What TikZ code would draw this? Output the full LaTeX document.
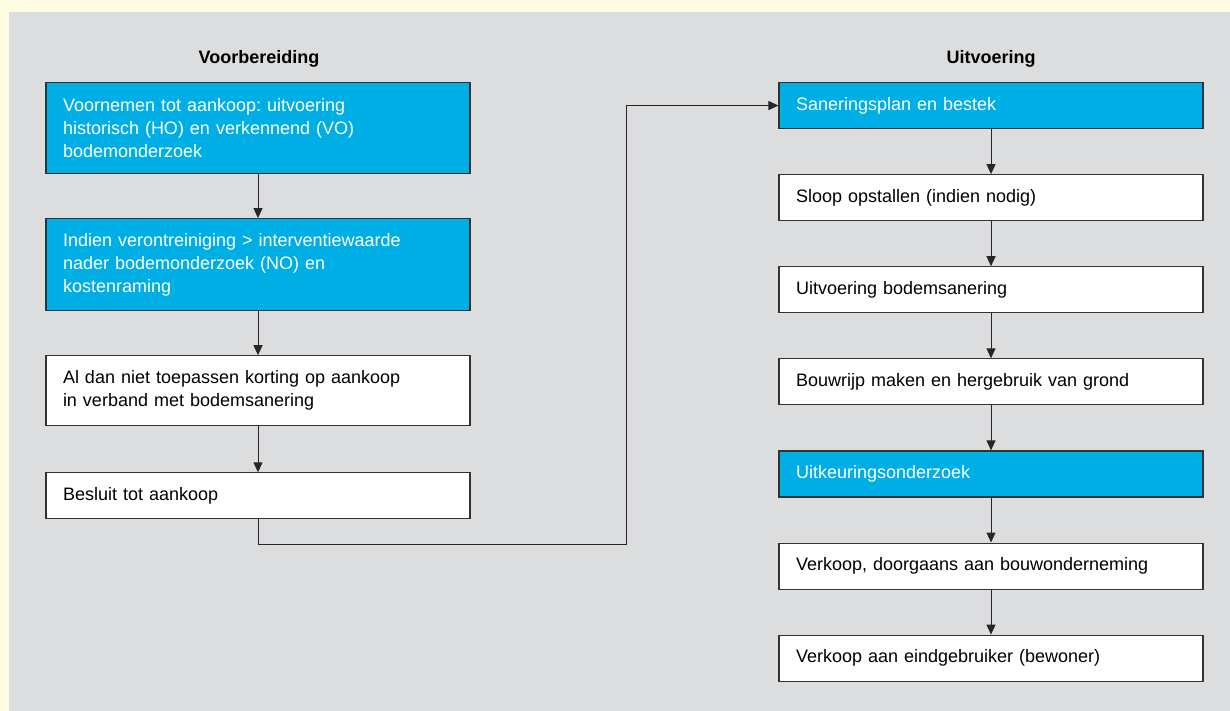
\documentclass[tikz,border=0pt]{standalone}
\usepackage{fontspec}
\setmainfont{Liberation Sans}
\usetikzlibrary{positioning,arrows.meta}
\frenchspacing

\definecolor{paleyellow}{RGB}{255,253,225}
\definecolor{panelgray}{RGB}{220,221,223}
\definecolor{stepblue}{RGB}{0,174,230}

\tikzset{
  box/.style={draw=black!80, line width=1.1pt, fill=white, minimum width=424pt,
    text width=390pt, inner xsep=17pt, inner ysep=0pt, align=left,
    font=\fontsize{18}{23}\selectfont},
  bluebox/.style={box, fill=stepblue, text=white},
  heading/.style={font=\fontsize{18}{22}\selectfont\bfseries},
  link/.style={-{Triangle[length=10pt,width=9pt]}, line width=1pt, draw=black!85},
}

\begin{document}
\begin{tikzpicture}[x=1pt,y=-1pt]
    % Background
    \fill[paleyellow] (0,0) rectangle (1230,711);
    \fill[panelgray] (9,12) rectangle (1230,711);

    % Headings
    \node[heading] (prep) at (259,59) {Voorbereiding};
    \node[heading] (exec) at (991,59) {Uitvoering};

    % Left column
    \node[bluebox, anchor=north, minimum height=91pt] (v1) at (258,82)
      {Voornemen tot aankoop: uitvoering\\historisch (HO) en verkennend (VO)\\bodemonderzoek};
    \node[bluebox, below=44pt of v1, minimum height=92pt] (v2)
      {Indien verontreiniging > interventiewaarde\\nader bodemonderzoek (NO) en\\kostenraming};
    \node[box, below=44pt of v2, minimum height=70pt] (v3)
      {Al dan niet toepassen korting op aankoop\\in verband met bodemsanering};
    \node[box, below=46pt of v3, minimum height=46pt] (v4) {Besluit tot aankoop};

    % Right column
    \node[bluebox, anchor=north, minimum height=46pt] (u1) at (991,82) {Saneringsplan en bestek};
    \node[box, below=45pt of u1, minimum height=46pt] (u2) {Sloop opstallen (indien nodig)};
    \node[box, below=45pt of u2, minimum height=46pt] (u3) {Uitvoering bodemsanering};
    \node[box, below=45pt of u3, minimum height=46pt] (u4) {Bouwrijp maken en hergebruik van grond};
    \node[bluebox, below=45pt of u4, minimum height=46pt] (u5) {Uitkeuringsonderzoek};
    \node[box, below=45pt of u5, minimum height=46pt] (u6) {Verkoop, doorgaans aan bouwonderneming};
    \node[box, below=45pt of u6, minimum height=46pt] (u7) {Verkoop aan eindgebruiker (bewoner)};

    % Arrows
    \foreach \a/\b in {v1/v2,v2/v3,v3/v4,u1/u2,u2/u3,u3/u4,u4/u5,u5/u6,u6/u7}
      \draw[link] (\a) -- (\b);

    % Link between the columns
    \coordinate (turn) at (626,544);
    \draw[link] (v4.south) |- (turn) |- (u1.west);
\end{tikzpicture}
\end{document}
